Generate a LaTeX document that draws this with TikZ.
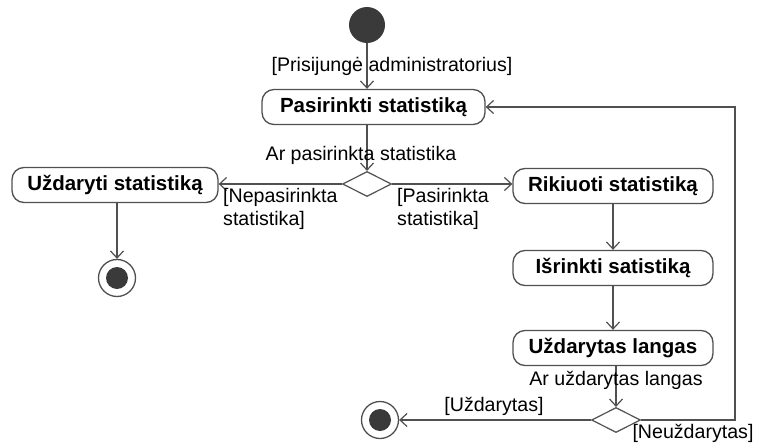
\documentclass[tikz,border=0pt]{standalone}
\usepackage{fontspec}
\setmainfont{Liberation Sans}
\usetikzlibrary{shapes.geometric,arrows.meta}
\definecolor{edge}{HTML}{505050}
\definecolor{dot}{HTML}{3A3A3A}
\begin{document}
\begin{tikzpicture}[x=1pt,y=-1pt,
  action/.style={draw=edge, line width=1.3pt, rounded corners=12pt, fill=white,
    minimum height=35pt, inner sep=0pt, font=\fontsize{20.5}{24}\selectfont\bfseries},
  decision/.style={draw=edge, line width=1.2pt, diamond, aspect=1.96,
    minimum width=49pt, minimum height=25pt, inner sep=0pt, fill=white},
  initial/.style={circle, fill=dot, minimum size=36pt, inner sep=0pt},
  final/.style={circle, draw=edge, line width=1.3pt, fill=white, minimum size=37pt, inner sep=0pt},
  flow/.style={draw=edge, line width=1.2pt, -{Straight Barb[length=7pt,width=13pt]}},
  guard/.style={font=\fontsize{19.6}{23}\selectfont, inner sep=0pt}
]
\useasboundingbox (0,0) rectangle (760,444);

% activity nodes
\node[initial] (s) at (367,25) {};
\node[action, minimum width=223pt] (a) at (373.5,107) {Pasirinkti statistiką};
\node[decision] (d1) at (367,184) {};
\node[action, minimum width=206pt] (b) at (115,185) {Uždaryti statistiką};
\node[final] (f1) at (117,278) {};
\fill[dot] (f1.center) circle (11);
\node[action, minimum width=200pt] (c) at (613,186) {Rikiuoti statistiką};
\node[action, minimum width=200pt] (e) at (613,268) {Išrinkti satistiką};
\node[action, minimum width=200pt] (g) at (613,348) {Uždarytas langas};
\node[decision] (d2) at (616,420) {};
\node[final] (f2) at (380,420) {};
\fill[dot] (f2.center) circle (11);
\coordinate (loop) at (735,420);

% control flows
\draw[flow] (s.south) -- (s.south |- a.north);
\draw[flow] (d1.north |- a.south) -- (d1.north);
\draw[flow] (d1.west) -- (d1.west -| b.east);
\draw[flow] (d1.east) -- (d1.east -| c.west);
\draw[flow] (f1.north |- b.south) -- (f1.north);
\draw[flow] (c.south) -- (e.north);
\draw[flow] (e.south) -- (g.north);
\draw[flow] (d2.north |- g.south) -- (d2.north);
\draw[flow] (d2.west) -- (f2.east);
\draw[flow] (d2.east) -- (loop) |- (a.east);

% guards and decision labels
\node[guard] (l1) at (392,66) {[Prisijungė administratorius]};
\node[guard] (l2) at (361,155) {Ar pasirinkta statistika};
\node[guard, align=left, anchor=north west] (l3) at (223,188) {[Nepasirinkta\\statistika]};
\node[guard, align=left, anchor=north west] (l4) at (397,188) {[Pasirinkta\\statistika]};
\node[guard] (l5) at (616,380) {Ar uždarytas langas};
\node[guard] (l6) at (494,406) {[Uždarytas]};
\node[guard] (l7) at (693,433) {[Neuždarytas]};
\end{tikzpicture}
\end{document}
